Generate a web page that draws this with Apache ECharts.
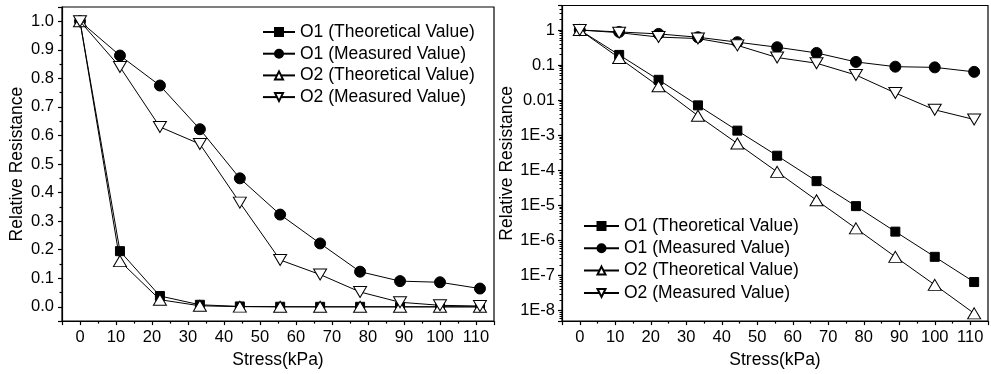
<!DOCTYPE html>
<html>
<head>
<meta charset="utf-8">
<script src="https://cdn.jsdelivr.net/npm/echarts@6/dist/echarts.min.js"></script>
<style>
  html, body { margin: 0; padding: 0; background: #fff; }
  #chart { width: 991px; height: 374px; }
</style>
</head>
<body>
<div id="chart"></div>
<script>
// Stress steps (kPa) and relative resistance of the two samples
const stress = [0, 11.1, 22.2, 33.3, 44.4, 55.6, 66.7, 77.8, 88.9, 100, 111.1];
const o1Theoretical = [1, 0.195, 0.038, 0.0071, 0.00135, 2.6e-4, 4.9e-5, 9.5e-6, 1.78e-6, 3.4e-7, 6.5e-8];
const o1Measured = [1, 0.88, 0.775, 0.622, 0.45, 0.323, 0.222, 0.123, 0.09, 0.086, 0.064];
const o2Theoretical = [1, 0.16, 0.025, 0.0036, 5.8e-4, 9e-5, 1.4e-5, 2.2e-6, 3.4e-7, 5.4e-8, 8.3e-9];
const o2Measured = [1, 0.84, 0.63, 0.57, 0.365, 0.164, 0.113, 0.052, 0.016, 0.0053, 0.0028];

const seriesNames = ['O1 (Theoretical Value)', 'O1 (Measured Value)', 'O2 (Theoretical Value)', 'O2 (Measured Value)'];
const seriesValues = [o1Theoretical, o1Measured, o2Theoretical, o2Measured];

// Tick labels of the logarithmic axis, keyed by decade exponent
const logTickLabels = { '0': '1', '-1': '0.1', '-2': '0.01', '-3': '1E-3', '-4': '1E-4',
  '-5': '1E-5', '-6': '1E-6', '-7': '1E-7', '-8': '1E-8' };

const FONT = "'Liberation Sans', Arial, sans-serif";

const markerStyles = [
  { symbol: 'rect', size: [9, 9], rotate: 0, fill: '#000' },
  { symbol: 'circle', size: [11, 11], rotate: 0, fill: '#000' },
  { symbol: 'triangle', size: [13, 11], rotate: 0, fill: '#fff' },
  { symbol: 'triangle', size: [13, 11], rotate: 180, fill: '#fff' }
];

function xAxisFor(gridIndex) {
  return {
    gridIndex, type: 'value', min: -5, max: 115, splitNumber: 12,
    name: 'Stress(kPa)', nameLocation: 'middle', nameGap: 16,
    nameTextStyle: { fontFamily: FONT, fontSize: 17.5, color: '#000' },
    axisLine: { show: true, onZero: false, lineStyle: { color: '#000', width: 1.2 } },
    axisTick: { show: true, length: 4, lineStyle: { color: '#000', width: 1.2 } },
    minorTick: { show: true, splitNumber: 2, length: 2.5, lineStyle: { color: '#000', width: 1.2 } },
    splitLine: { show: false },
    axisLabel: {
      fontFamily: FONT, fontSize: 16.5, color: '#000', margin: 8,
      formatter: v => (Math.abs(v % 10) < 1e-6 ? String(Math.round(v)) : '')
    }
  };
}

const yCommon = {
  name: 'Relative Resistance', nameLocation: 'middle',
  nameTextStyle: { fontFamily: FONT, fontSize: 17.5, color: '#000' },
  axisLine: { show: true, onZero: false, lineStyle: { color: '#000', width: 1.2 } },
  axisTick: { show: true, length: 4, lineStyle: { color: '#000', width: 1.2 } },
  splitLine: { show: false }
};

const option = {
  animation: false,
  backgroundColor: '#fff',
  grid: [
    { left: 62, top: 7, width: 432, height: 321, show: true, borderColor: '#000', borderWidth: 1.2, backgroundColor: 'transparent' },
    { left: 562, top: 5.5, width: 431, height: 321, show: true, borderColor: '#000', borderWidth: 1.2, backgroundColor: 'transparent' }
  ],
  xAxis: [xAxisFor(0), xAxisFor(1)],
  yAxis: [
    Object.assign({}, yCommon, {
      gridIndex: 0, type: 'value', min: -0.05, max: 1.05, splitNumber: 11, nameGap: 36,
      minorTick: { show: true, splitNumber: 2, length: 2.5, lineStyle: { color: '#000', width: 1.2 } },
      axisLabel: {
        fontFamily: FONT, fontSize: 16.5, color: '#000', margin: 8,
        formatter: v => {
          const r = Math.round(v * 10);
          return Math.abs(v * 10 - r) < 1e-6 ? (r / 10).toFixed(1) : '';
        }
      }
    }),
    Object.assign({}, yCommon, {
      gridIndex: 1, type: 'log', logBase: 10, min: 5e-9, max: 5, nameGap: 46,
      minorTick: { show: true, splitNumber: 9, length: 2.5, lineStyle: { color: '#000', width: 1 } },
      axisLabel: {
        fontFamily: FONT, fontSize: 16.5, color: '#000', margin: 7,
        formatter: v => {
          const e = Math.log10(v);
          const r = Math.round(e);
          return Math.abs(e - r) < 1e-6 && logTickLabels[String(r)] !== undefined ? logTickLabels[String(r)] : '';
        }
      }
    })
  ],
  legend: [
    {
      orient: 'vertical', left: 257, top: 18, itemWidth: 32, itemHeight: 10, itemGap: 3.7,
      data: seriesNames,
      textStyle: { fontFamily: FONT, fontSize: 17.5, color: '#000', lineHeight: 18 },
      selectedMode: false
    },
    {
      orient: 'vertical', left: 578, top: 212, itemWidth: 35, itemHeight: 10, itemGap: 4.3,
      data: seriesNames,
      textStyle: { fontFamily: FONT, fontSize: 17.5, color: '#000', lineHeight: 18 },
      selectedMode: false
    }
  ],
  series: []
};

[0, 1].forEach(g => {
  seriesNames.forEach((name, i) => {
    const m = markerStyles[i];
    option.series.push({
      name, type: 'line', xAxisIndex: g, yAxisIndex: g,
      data: stress.map((x, k) => [x, seriesValues[i][k]]),
      symbol: m.symbol, symbolSize: m.size, symbolRotate: m.rotate, showAllSymbol: true,
      lineStyle: { color: '#000', width: 1 },
      itemStyle: { color: m.fill, borderColor: '#000', borderWidth: 1 },
      z: 2 + i
    });
  });
});

const chart = echarts.init(document.getElementById('chart'), null, { renderer: 'canvas' });
chart.setOption(option);
</script>
</body>
</html>
